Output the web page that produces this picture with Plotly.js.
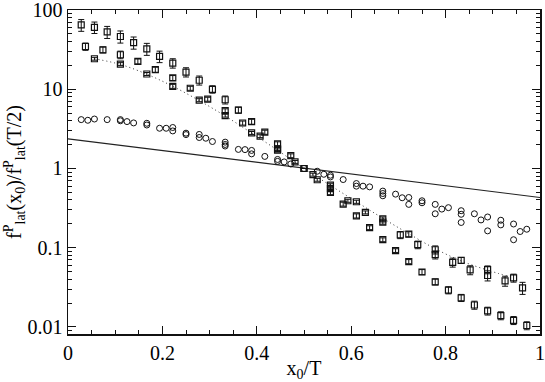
<!DOCTYPE html>
<html>
<head>
<meta charset="utf-8">
<script src="https://cdn.plot.ly/plotly-3.0.1.min.js"></script>
<style>
  html, body { margin: 0; padding: 0; background: #fff; }
  #plot { width: 545px; height: 382px; }
</style>
</head>
<body>
<div id="plot"></div>
<script>
// series A: open squares, large errors at small x0
var xA = [0.028, 0.056, 0.083, 0.111, 0.139, 0.167, 0.194, 0.222, 0.250, 0.278, 0.306, 0.333,
          0.361, 0.389, 0.417, 0.444, 0.472, 0.500, 0.528, 0.556, 0.583, 0.611, 0.639, 0.667,
          0.694, 0.722, 0.750, 0.778, 0.806, 0.833, 0.861, 0.889, 0.917, 0.944, 0.972];
var yA = [64.9, 60.6, 53.0, 46.4, 38.9, 32.4, 26.0, 21.4, 16.5, 13.0, 10.0, 7.37,
          5.47, 3.90, 2.87, 2.05, 1.45, 1.0, 0.72, 0.497, 0.355, 0.252, 0.179, 0.126,
          0.092, 0.0667, 0.0493, 0.037, 0.0291, 0.0233, 0.0189, 0.0159, 0.0139, 0.0121, 0.0104];
var errA = [11, 10, 9.2, 8.1, 6.8, 5.6, 4.3, 2.9, 2.2, 1.7, 1.07, 0.85,
            0.48, 0.28, 0.17, 0.12, 0.08, 0, 0.03, 0.03, 0.02, 0.015, 0.01, 0.007,
            0.005, 0.004, 0.0036, 0.0032, 0.003, 0.0024, 0.0022, 0.0018, 0.0016, 0.0014, 0.0012];

// series B
var xB = [0.037, 0.074, 0.111, 0.148, 0.185, 0.222, 0.259, 0.296, 0.333, 0.370, 0.407, 0.444, 0.481,
          0.519, 0.556, 0.593, 0.630, 0.667, 0.704, 0.741, 0.778, 0.815, 0.852, 0.889, 0.926, 0.963];
var yB = [34.7, 31.5, 27.3, 22.5, 17.7, 13.9, 10.3, 7.5, 5.37, 3.75, 2.56, 1.77, 1.21,
          0.836, 0.558, 0.391, 0.279, 0.21, 0.145, 0.109, 0.0815, 0.0653, 0.0523, 0.0445, 0.0381, 0.0311];
var errB = [3.7, 2.7, 3.0, 1.6, 1.3, 1.0, 0.6, 0.43, 0.3, 0.22, 0.11, 0.08, 0.05,
            0.036, 0.024, 0.017, 0.012, 0.012, 0.015, 0.012, 0.0095, 0.0085, 0.0068, 0.0065, 0.0055, 0.0054];

// series C (the one the dotted curve follows)
var xC = [0.056, 0.111, 0.167, 0.222, 0.278, 0.333, 0.389, 0.444, 0.500,
          0.556, 0.611, 0.667, 0.722, 0.778, 0.833, 0.889, 0.944];
var yC = [24.3, 20.8, 15.6, 10.9, 7.29, 4.65, 2.81, 1.70, 1.0,
          0.615, 0.38, 0.231, 0.148, 0.0942, 0.0692, 0.0528, 0.0415];
var errC = [1.0, 0.9, 0.68, 0.63, 0.32, 0.2, 0.12, 0.07, 0,
            0.027, 0.017, 0.013, 0.011, 0.011, 0.006, 0.006, 0.0048];

// open circles
var xO = [0.028, 0.042, 0.056, 0.083, 0.111, 0.111, 0.125, 0.139, 0.167, 0.167, 0.194, 0.208,
          0.222, 0.222, 0.250, 0.250, 0.278, 0.278, 0.292, 0.306, 0.333, 0.333, 0.333, 0.361,
          0.375, 0.389, 0.389, 0.417, 0.444, 0.444, 0.458, 0.472, 0.500, 0.528, 0.542, 0.556,
          0.556, 0.583, 0.611, 0.611, 0.625, 0.639, 0.667, 0.667, 0.667, 0.694, 0.708, 0.722,
          0.722, 0.750, 0.750, 0.778, 0.778, 0.792, 0.806, 0.833, 0.833, 0.833, 0.861, 0.875,
          0.889, 0.889, 0.917, 0.917, 0.944, 0.944, 0.958, 0.972];
var yO = [4.14, 4.06, 4.21, 4.14, 4.14, 4.0, 3.91, 3.76, 3.72, 3.54, 3.22, 3.22,
          3.29, 2.98, 2.79, 2.68, 2.69, 2.46, 2.41, 2.19, 2.15, 2.01, 1.92, 1.74,
          1.73, 1.69, 1.53, 1.42, 1.30, 1.23, 1.21, 1.14, 1.0, 0.923, 0.845, 0.822,
          0.782, 0.725, 0.645, 0.598, 0.598, 0.586, 0.518, 0.483, 0.452, 0.474, 0.427, 0.430,
          0.352, 0.391, 0.369, 0.352, 0.268, 0.307, 0.320, 0.293, 0.264, 0.208, 0.268, 0.224,
          0.244, 0.163, 0.222, 0.194, 0.199, 0.126, 0.160, 0.171];

// dotted curve
var xDot = [0.056, 0.111, 0.167, 0.222, 0.278, 0.333, 0.389, 0.444, 0.5,
            0.556, 0.611, 0.667, 0.722, 0.778, 0.833, 0.889, 0.93];
var yDot = [24.3, 20.6, 15.5, 10.9, 7.2, 4.6, 2.8, 1.7, 1.0,
            0.61, 0.38, 0.235, 0.15, 0.097, 0.068, 0.052, 0.044];

// solid straight line
var xLine = [0, 1];
var yLine = [2.37, 0.43];

var yTickVals = [0.01, 0.1, 1, 10, 100];
var yTickText = ['0.01', '0.1', '1', '10', '100'];

var ink = '#111';

function squares(x, y, err) {
    return {
        x: x, y: y, type: 'scatter', mode: 'markers',
        marker: { symbol: 'square-open', size: 6, color: ink, line: { width: 1.2, color: ink } },
        error_y: { type: 'data', array: err, visible: true, color: ink, thickness: 1, width: 3 },
        hoverinfo: 'skip'
    };
}

var traces = [
    { x: xLine, y: yLine, type: 'scatter', mode: 'lines', line: { color: '#222', width: 1.2 } },
    { x: xDot, y: yDot, type: 'scatter', mode: 'lines', line: { color: '#333', width: 1, dash: '1px,3px', shape: 'spline' } },
    { x: xO, y: yO, type: 'scatter', mode: 'markers',
      marker: { symbol: 'circle-open', size: 6, color: ink, line: { width: 1, color: ink } } },
    squares(xC, yC, errC),
    squares(xB, yB, errB),
    squares(xA, yA, errA)
];

var serif = '"Liberation Serif", "Times New Roman", Times, serif';

var layout = {
    width: 545, height: 382,
    margin: { l: 68, r: 5, t: 10, b: 48 },
    paper_bgcolor: '#fff', plot_bgcolor: '#fff',
    showlegend: false,
    font: { family: serif, size: 20, color: '#000' },
    xaxis: {
        range: [0, 1], dtick: 0.2, tick0: 0,
        ticks: 'inside', ticklen: 8, tickwidth: 1, tickcolor: ink,
        minor: { dtick: 0.05, ticks: 'inside', ticklen: 4, tickwidth: 1, tickcolor: ink, showgrid: false },
        showline: true, linecolor: ink, linewidth: 1.5, mirror: 'allticks',
        showgrid: false, zeroline: false, ticklabeloverflow: 'allow',
        tickfont: { family: serif, size: 20, color: '#000' },
        title: { text: 'x<sub>0</sub>/T', font: { family: serif, size: 20, color: '#000' }, standoff: 2 }
    },
    yaxis: {
        type: 'log', range: [-2.09, 2.001],
        tickmode: 'array', tickvals: yTickVals, ticktext: yTickText,
        ticks: 'inside', ticklen: 8, tickwidth: 1, tickcolor: ink,
        minor: { dtick: 'D1', ticks: 'inside', ticklen: 4, tickwidth: 1, tickcolor: ink, showgrid: false },
        showline: true, linecolor: ink, linewidth: 1.5, mirror: 'allticks',
        showgrid: false, zeroline: false, ticklabeloverflow: 'allow',
        tickfont: { family: serif, size: 20, color: '#000' },
        title: { text: 'f<sup>P</sup><sub>lat</sub>(x<sub>0</sub>)/f<sup>P</sup><sub>lat</sub>(T/2)',
                 font: { family: serif, size: 20, color: '#000' }, standoff: 0 }
    }
};

Plotly.newPlot('plot', traces, layout, { staticPlot: true });
</script>
</body>
</html>
